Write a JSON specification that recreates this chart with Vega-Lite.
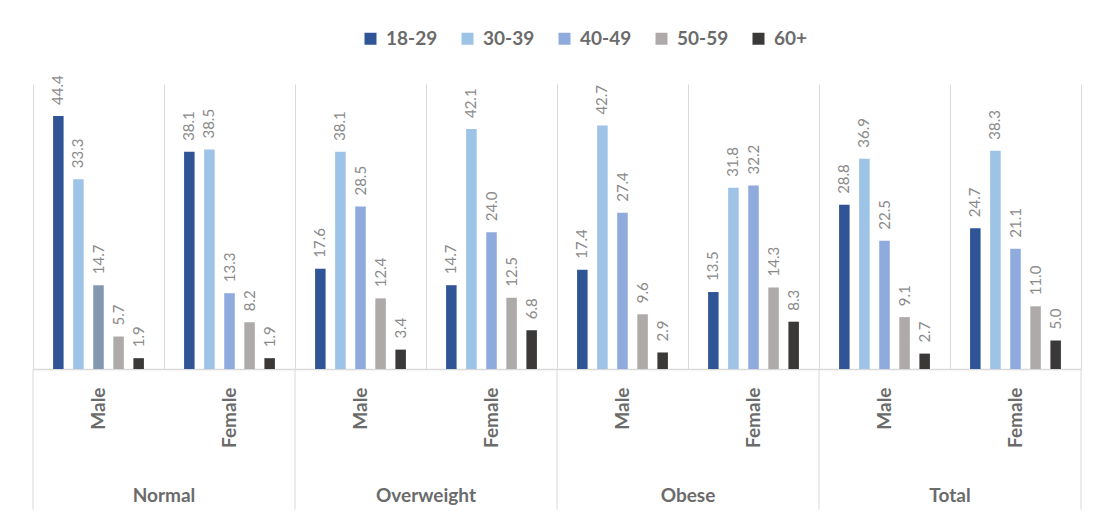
{
  "$schema": "https://vega.github.io/schema/vega-lite/v6.json",
  "width": 1048,
  "height": 285,
  "autosize": {"type": "none"},
  "padding": {"left": 33, "top": 84, "right": 13, "bottom": 150},
  "background": "white",
  "config": {
    "view": {"stroke": null},
    "font": "Lato"
  },
  "datasets": {
    "bars": [
      {"sub": "Normal|Male", "age": "18-29", "pct": 44.4},
      {"sub": "Normal|Male", "age": "30-39", "pct": 33.3},
      {"sub": "Normal|Male", "age": "40-49", "pct": 14.7},
      {"sub": "Normal|Male", "age": "50-59", "pct": 5.7},
      {"sub": "Normal|Male", "age": "60+", "pct": 1.9},
      {"sub": "Normal|Female", "age": "18-29", "pct": 38.1},
      {"sub": "Normal|Female", "age": "30-39", "pct": 38.5},
      {"sub": "Normal|Female", "age": "40-49", "pct": 13.3},
      {"sub": "Normal|Female", "age": "50-59", "pct": 8.2},
      {"sub": "Normal|Female", "age": "60+", "pct": 1.9},
      {"sub": "Overweight|Male", "age": "18-29", "pct": 17.6},
      {"sub": "Overweight|Male", "age": "30-39", "pct": 38.1},
      {"sub": "Overweight|Male", "age": "40-49", "pct": 28.5},
      {"sub": "Overweight|Male", "age": "50-59", "pct": 12.4},
      {"sub": "Overweight|Male", "age": "60+", "pct": 3.4},
      {"sub": "Overweight|Female", "age": "18-29", "pct": 14.7},
      {"sub": "Overweight|Female", "age": "30-39", "pct": 42.1},
      {"sub": "Overweight|Female", "age": "40-49", "pct": 24.0},
      {"sub": "Overweight|Female", "age": "50-59", "pct": 12.5},
      {"sub": "Overweight|Female", "age": "60+", "pct": 6.8},
      {"sub": "Obese|Male", "age": "18-29", "pct": 17.4},
      {"sub": "Obese|Male", "age": "30-39", "pct": 42.7},
      {"sub": "Obese|Male", "age": "40-49", "pct": 27.4},
      {"sub": "Obese|Male", "age": "50-59", "pct": 9.6},
      {"sub": "Obese|Male", "age": "60+", "pct": 2.9},
      {"sub": "Obese|Female", "age": "18-29", "pct": 13.5},
      {"sub": "Obese|Female", "age": "30-39", "pct": 31.8},
      {"sub": "Obese|Female", "age": "40-49", "pct": 32.2},
      {"sub": "Obese|Female", "age": "50-59", "pct": 14.3},
      {"sub": "Obese|Female", "age": "60+", "pct": 8.3},
      {"sub": "Total|Male", "age": "18-29", "pct": 28.8},
      {"sub": "Total|Male", "age": "30-39", "pct": 36.9},
      {"sub": "Total|Male", "age": "40-49", "pct": 22.5},
      {"sub": "Total|Male", "age": "50-59", "pct": 9.1},
      {"sub": "Total|Male", "age": "60+", "pct": 2.7},
      {"sub": "Total|Female", "age": "18-29", "pct": 24.7},
      {"sub": "Total|Female", "age": "30-39", "pct": 38.3},
      {"sub": "Total|Female", "age": "40-49", "pct": 21.1},
      {"sub": "Total|Female", "age": "50-59", "pct": 11.0},
      {"sub": "Total|Female", "age": "60+", "pct": 5.0}
    ],
    "groups": [
      {"group": "Normal", "sub": "Normal|Male"},
      {"group": "Overweight", "sub": "Overweight|Male"},
      {"group": "Obese", "sub": "Obese|Male"},
      {"group": "Total", "sub": "Total|Male"}
    ]
  },
  "encoding": {
    "x": {
      "field": "sub",
      "type": "nominal",
      "scale": {
        "domain": ["Normal|Male", "Normal|Female", "Overweight|Male", "Overweight|Female", "Obese|Male", "Obese|Female", "Total|Male", "Total|Female"],
        "paddingInner": 0,
        "paddingOuter": 0
      },
      "axis": {
        "title": null,
        "labelExpr": "split(datum.value, '|')[1]",
        "labelAngle": -90,
        "labelAlign": "right",
        "labelBaseline": "middle",
        "labelFontSize": 19,
        "labelFontWeight": "bold",
        "labelColor": "#6b6b6b",
        "labelPadding": 18,
        "ticks": false,
        "tickBand": "extent",
        "grid": true,
        "gridColor": "#d9d9d9",
        "gridWidth": 1,
        "domainColor": "#d9d9d9",
        "domainWidth": 1.5
      }
    }
  },
  "layer": [
    {
      "data": {"name": "bars"},
      "mark": {"type": "bar"},
      "encoding": {
        "xOffset": {
          "field": "age",
          "type": "nominal",
          "scale": {"paddingInner": 0.476, "paddingOuter": 1.15}
        },
        "y": {
          "field": "pct",
          "type": "quantitative",
          "scale": {"domain": [0, 50], "nice": false},
          "axis": null
        },
        "color": {
          "field": "age",
          "type": "nominal",
          "condition": {"test": "datum.sub === 'Normal|Male' && datum.age === '40-49'", "value": "#8497B0"},
          "scale": {
            "domain": ["18-29", "30-39", "40-49", "50-59", "60+"],
            "range": ["#2F5597", "#9DC3E6", "#8FAADC", "#AEAAAA", "#3B3838"]
          },
          "legend": {
            "title": null,
            "orient": "none",
            "direction": "horizontal",
            "legendX": 328,
            "legendY": -55,
            "symbolType": "square",
            "symbolSize": 144,
            "symbolStrokeWidth": 0,
            "symbolOpacity": 1,
            "labelFontSize": 19,
            "labelFontWeight": "bold",
            "labelColor": "#6b6b6b",
            "labelOffset": 6,
            "columnPadding": 20,
            "padding": 0
          }
        }
      }
    },
    {
      "data": {"name": "bars"},
      "mark": {
        "type": "text",
        "angle": 270,
        "align": "left",
        "baseline": "middle",
        "dx": 11,
        "fontSize": 15,
        "color": "#8a8a8a"
      },
      "encoding": {
        "xOffset": {"field": "age", "type": "nominal"},
        "y": {"field": "pct", "type": "quantitative"},
        "text": {"field": "pct", "type": "quantitative", "format": ".1f"}
      }
    },
    {
      "data": {"name": "groups"},
      "mark": {"type": "rule", "color": "#d9d9d9", "strokeWidth": 1},
      "encoding": {
        "x": {"field": "sub", "type": "nominal", "bandPosition": 0},
        "y": {"datum": 0},
        "y2": {"datum": -24.7}
      }
    },
    {
      "data": {"values": [{"sub": "Total|Female"}]},
      "mark": {"type": "rule", "color": "#d9d9d9", "strokeWidth": 1},
      "encoding": {
        "x": {"field": "sub", "type": "nominal", "bandPosition": 1},
        "y": {"datum": 0},
        "y2": {"datum": -24.7}
      }
    },
    {
      "data": {"name": "groups"},
      "mark": {
        "type": "text",
        "align": "center",
        "baseline": "middle",
        "fontSize": 19,
        "fontWeight": "bold",
        "color": "#6b6b6b"
      },
      "encoding": {
        "x": {"field": "sub", "type": "nominal", "bandPosition": 1},
        "y": {"datum": -22.2},
        "text": {"field": "group", "type": "nominal"}
      }
    }
  ]
}
